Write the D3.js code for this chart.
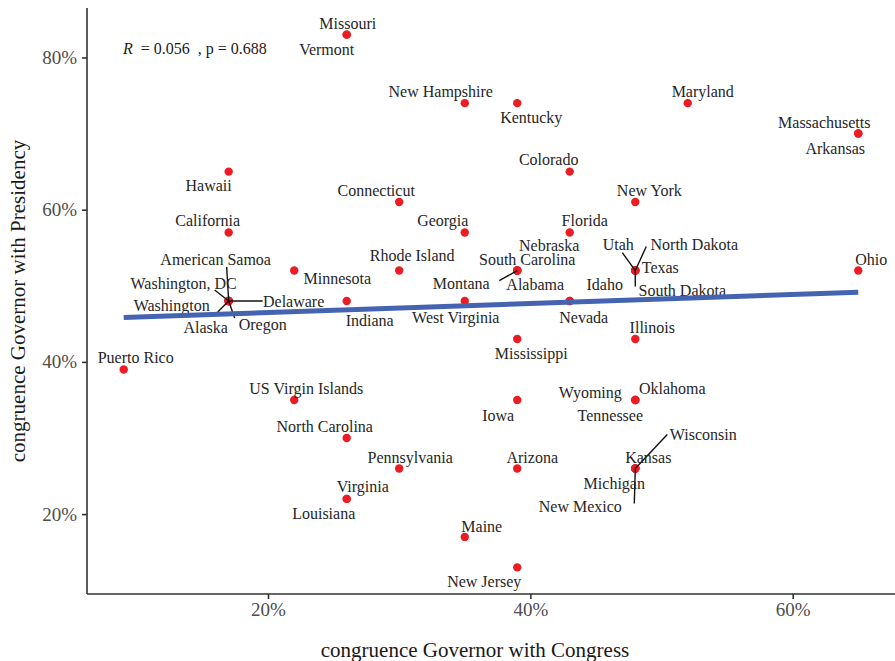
<!DOCTYPE html>
<html>
<head>
<meta charset="utf-8">
<script src="https://cdn.jsdelivr.net/npm/d3@7"></script>
<style>
  body { margin: 0; background: #fff; }
  svg text { font-family: "Liberation Serif", "DejaVu Serif", serif; }
  .axis path, .axis line { stroke: #333; stroke-width: 1.6; }
  .axis text { fill: #4d4d4d; font-size: 19px; }
</style>
</head>
<body>
<svg width="895" height="661"></svg>
<script>
// values, in percent
var states = ["Missouri", "Vermont", "New Hampshire", "Kentucky", "Maryland",
  "Massachusetts", "Arkansas", "Colorado", "Hawaii", "Connecticut", "New York",
  "California", "Georgia", "Florida", "Minnesota", "Rhode Island", "Nebraska",
  "South Carolina", "Montana", "Alabama", "Utah", "North Dakota", "Texas",
  "South Dakota", "Ohio", "American Samoa", "Washington, DC", "Washington",
  "Delaware", "Alaska", "Oregon", "Indiana", "West Virginia", "Idaho", "Nevada",
  "Illinois", "Mississippi", "Puerto Rico", "US Virgin Islands", "Iowa",
  "Wyoming", "Oklahoma", "Tennessee", "North Carolina", "Pennsylvania",
  "Arizona", "Kansas", "Wisconsin", "Michigan", "New Mexico", "Virginia",
  "Louisiana", "Maine", "New Jersey"];

var congress = [26, 26, 35, 39, 52, 65, 65, 43, 17, 30, 48, 17, 35, 43, 22, 30, 39,
  39, 39, 39, 48, 48, 48, 48, 65, 17, 17, 17, 17, 17, 17, 26, 35, 43, 43, 48, 39,
  9, 22, 39, 48, 48, 48, 26, 30, 39, 48, 48, 48, 48, 26, 26, 35, 39];

var presidency = [83, 83, 74, 74, 74, 70, 70, 65, 65, 61, 61, 57, 57, 57, 52, 52, 52,
  52, 52, 52, 52, 52, 52, 52, 52, 48, 48, 48, 48, 48, 48, 48, 48, 48, 48, 43, 43,
  39, 35, 35, 35, 35, 35, 30, 26, 26, 26, 26, 26, 26, 22, 22, 17, 13];

var xTicks = [20, 40, 60];
var yTicks = [20, 40, 60, 80];
var corText = { r: "0.056", p: "0.688" };

// repel layout: label centre relative to its point [dx, dy], and where a leader line ends
var labelOffset = {
  "Missouri": [1, -11], "Vermont": [-20, 15], "New Hampshire": [-24, -12],
  "Kentucky": [14, 14], "Maryland": [15, -12], "Massachusetts": [-34, -11],
  "Arkansas": [-23, 15], "Colorado": [-21, -12], "Hawaii": [-20, 14],
  "Connecticut": [-23, -12], "New York": [14, -12], "California": [-21, -12],
  "Georgia": [-22, -12], "Florida": [15, -12], "Minnesota": [43, 8],
  "Rhode Island": [13, -15], "Nebraska": [32, -25], "South Carolina": [10, -11],
  "Montana": [-56, 13, [-18, 10]], "Alabama": [18, 14], "Utah": [-17, -26, [-13, -18]],
  "North Dakota": [59, -26, [11, -24]], "Texas": [25, -3], "South Dakota": [47, 20, [0, 16]],
  "Ohio": [13, -11], "American Samoa": [-13, -42, [-2, -34]],
  "Washington, DC": [-45, -18, [-14, -11]],
  "Washington": [-57, 4], "Delaware": [65, 0, [34, 0]], "Alaska": [-23, 26, [-11, 11]],
  "Oregon": [34, 23, [6, 17]], "Indiana": [23, 19], "West Virginia": [-9, 16],
  "Idaho": [35, -17], "Nevada": [14, 16], "Illinois": [17, -12],
  "Mississippi": [14, 14], "Puerto Rico": [12, -12], "US Virgin Islands": [12, -12],
  "Iowa": [-19, 15], "Wyoming": [-45, -8], "Oklahoma": [37, -12],
  "Tennessee": [-25, 15], "North Carolina": [-22, -12], "Pennsylvania": [11, -11],
  "Arizona": [15, -11], "Kansas": [13, -11], "Wisconsin": [68, -34, [32, -34]],
  "Michigan": [-21, 15], "New Mexico": [-55, 38, [-1, 35]], "Virginia": [16, -12],
  "Louisiana": [-23, 15], "Maine": [17, -11], "New Jersey": [-33, 14]
};

var data = states.map(function(s, i) {
  return { name: s, x: congress[i], y: presidency[i] };
});

var svg = d3.select("svg");
var plotLeft = 87, plotRight = 895, plotTop = 8, plotBottom = 594;

function expand(ext) {
  var d = (ext[1] - ext[0]) * 0.05;
  return [ext[0] - d, ext[1] + d];
}

var xScale = d3.scaleLinear()
  .domain(expand(d3.extent(data, function(d) { return d.x; })))
  .range([plotLeft, plotRight]);
var yScale = d3.scaleLinear()
  .domain(expand(d3.extent(data, function(d) { return d.y; })))
  .range([plotBottom, plotTop]);

// axes
svg.append("g")
  .attr("class", "axis")
  .attr("transform", "translate(0," + plotBottom + ")")
  .call(d3.axisBottom(xScale).tickValues(xTicks).tickSize(5).tickPadding(4)
    .tickFormat(function(d) { return d + "%"; }))
  .call(function(g) { g.select(".domain").attr("d", "M" + plotLeft + ",0H" + plotRight); });

svg.append("g")
  .attr("class", "axis")
  .attr("transform", "translate(" + plotLeft + ",0)")
  .call(d3.axisLeft(yScale).tickValues(yTicks).tickSize(5).tickPadding(5)
    .tickFormat(function(d) { return d + "%"; }))
  .call(function(g) { g.select(".domain").attr("d", "M0," + plotTop + "V" + plotBottom); });

svg.append("text")
  .attr("x", 475)
  .attr("y", 657)
  .attr("text-anchor", "middle")
  .style("font-size", "21px")
  .style("fill", "#1a1a1a")
  .text("congruence Governor with Congress");

svg.append("text")
  .attr("transform", "translate(25," + ((plotTop + plotBottom) / 2) + ") rotate(-90)")
  .attr("text-anchor", "middle")
  .style("font-size", "21px")
  .style("fill", "#1a1a1a")
  .text("congruence Governor with Presidency");

// points
svg.selectAll(".dot")
  .data(data)
  .enter()
  .append("circle")
  .attr("class", "dot")
  .attr("cx", function(d) { return xScale(d.x); })
  .attr("cy", function(d) { return yScale(d.y); })
  .attr("r", 4.2)
  .style("fill", "#ec1c24");

// leader lines
svg.selectAll(".seg")
  .data(data.filter(function(d) { return labelOffset[d.name][2]; }))
  .enter()
  .append("line")
  .attr("class", "seg")
  .attr("x1", function(d) { return xScale(d.x); })
  .attr("y1", function(d) { return yScale(d.y); })
  .attr("x2", function(d) { return xScale(d.x) + labelOffset[d.name][2][0]; })
  .attr("y2", function(d) { return yScale(d.y) + labelOffset[d.name][2][1]; })
  .style("stroke", "#111")
  .style("stroke-width", 1.4);

// labels
svg.selectAll(".lab")
  .data(data)
  .enter()
  .append("text")
  .attr("class", "lab")
  .attr("x", function(d) { return xScale(d.x) + labelOffset[d.name][0]; })
  .attr("y", function(d) { return yScale(d.y) + labelOffset[d.name][1]; })
  .attr("dy", "0.35em")
  .attr("text-anchor", "middle")
  .style("font-size", "16px")
  .style("fill", "#262626")
  .text(function(d) { return d.name; });

// linear fit
var mx = d3.mean(data, function(d) { return d.x; });
var my = d3.mean(data, function(d) { return d.y; });
var sxy = d3.sum(data, function(d) { return (d.x - mx) * (d.y - my); });
var sxx = d3.sum(data, function(d) { return (d.x - mx) * (d.x - mx); });
var slope = sxy / sxx, icpt = my - slope * mx;
var xr = d3.extent(data, function(d) { return d.x; });
var fit = xr.map(function(v) { return { x: v, y: icpt + slope * v }; });

svg.append("path")
  .datum(fit)
  .attr("fill", "none")
  .attr("stroke", "#4463b0")
  .attr("stroke-width", 5)
  .attr("d", d3.line()
    .x(function(d) { return xScale(d.x); })
    .y(function(d) { return yScale(d.y); }));

// correlation note
var note = svg.append("text")
  .attr("x", 123)
  .attr("y", 48)
  .attr("dy", "0.35em")
  .style("font-size", "16px")
  .style("white-space", "pre")
  .style("fill", "#1a1a1a");
note.append("tspan").style("font-style", "italic").text("R");
note.append("tspan").text("  = " + corText.r + "  , p = " + corText.p);
</script>
</body>
</html>
